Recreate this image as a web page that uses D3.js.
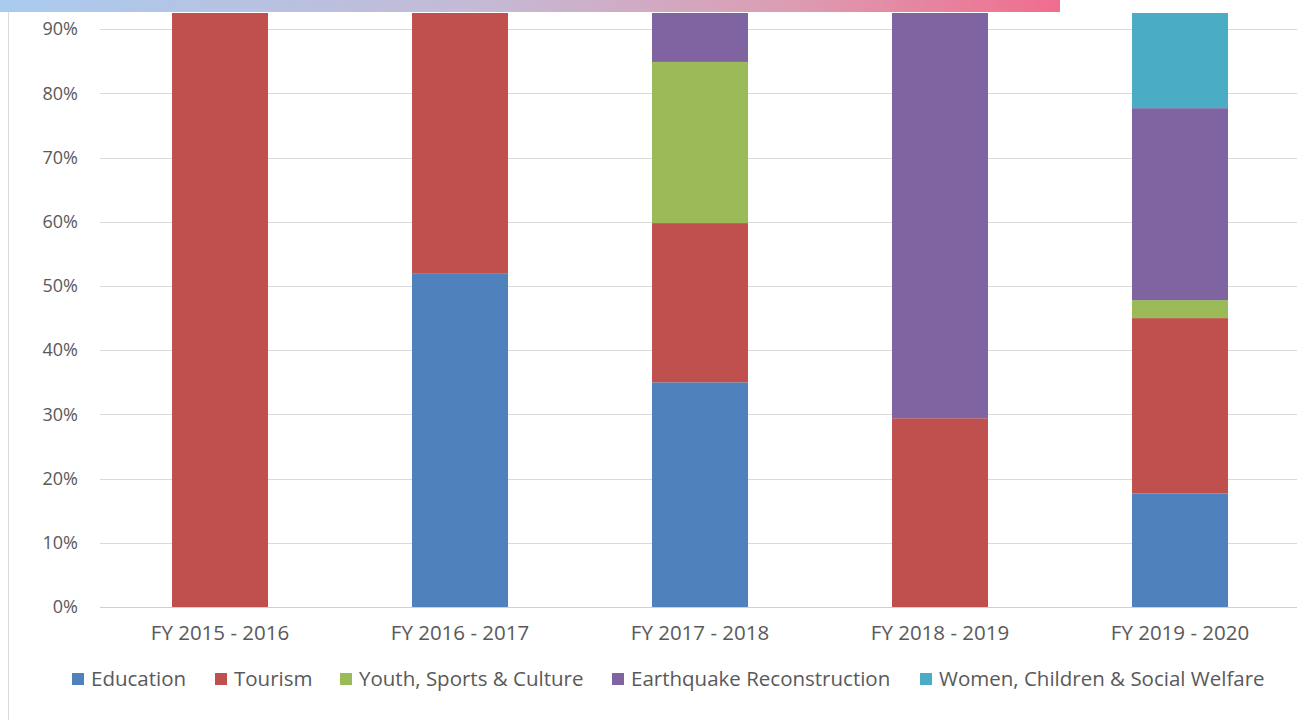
<!DOCTYPE html>
<html><head><meta charset="utf-8">
<script src="https://cdn.jsdelivr.net/npm/d3@7"></script>
<style>
html,body{margin:0;padding:0;background:#fff;}
svg{display:block;font-family:"Open Sans",Lato,sans-serif;}
</style></head>
<body>
<svg id="chart" width="1314" height="720"></svg>
<script>
const categories = ["FY 2015 - 2016","FY 2016 - 2017","FY 2017 - 2018","FY 2018 - 2019","FY 2019 - 2020"];
const seriesNames = ["Education","Tourism","Youth, Sports & Culture","Earthquake Reconstruction","Women, Children & Social Welfare"];
const education  = [0, 52, 35, 0, 17.7];
const tourism    = [100, 48, 24.8, 29.4, 27.3];
const youth      = [0, 0, 25.1, 0, 2.8];
const earthquake = [0, 0, 15.1, 70.6, 29.9];
const women      = [0, 0, 0, 0, 22.3];
const colors = ["#4F81BD","#C0504D","#9BBB59","#8064A2","#4BACC6"];
const yTicks = [0,0.1,0.2,0.3,0.4,0.5,0.6,0.7,0.8,0.9];

const svg = d3.select("#chart");
const W = 1314, H = 720;
const FONT = "'Open Sans',Lato,sans-serif";

// top gradient band
const defs = svg.append("defs");
const grad = defs.append("linearGradient").attr("id","topg").attr("x1","0").attr("x2","1").attr("y1","0").attr("y2","0");
grad.append("stop").attr("offset","0%").attr("stop-color","#a9cbef");
grad.append("stop").attr("offset","45%").attr("stop-color","#c4bad6");
grad.append("stop").attr("offset","75%").attr("stop-color","#dc9cb2");
grad.append("stop").attr("offset","100%").attr("stop-color","#f06d8e");
svg.append("rect").attr("x",0).attr("y",0).attr("width",1060).attr("height",12).attr("fill","url(#topg)");

// left border line
svg.append("line").attr("x1",8.5).attr("x2",8.5).attr("y1",12).attr("y2",H).attr("stroke","#d9d9d9").attr("stroke-width",1);

defs.append("clipPath").attr("id","plotclip").append("rect").attr("x",0).attr("y",13).attr("width",W).attr("height",H-13);

const x = d3.scaleBand().domain(categories).range([100,1300]).paddingInner(0.6).paddingOuter(0.3);
const y = d3.scaleLinear().domain([0,1]).range([607,-35]);

const g = svg.append("g").attr("clip-path","url(#plotclip)");

// gridlines
g.append("g").selectAll("line").data(yTicks).join("line")
  .attr("x1",100).attr("x2",1297)
  .attr("y1",d=>Math.round(y(d))+0.5).attr("y2",d=>Math.round(y(d))+0.5)
  .attr("stroke",d=>d===0?"#d0d0d0":"#d9d9d9").attr("stroke-width",1.2);

// stacked data
const rows = categories.map((c,i)=>({cat:c, s0:education[i]/100, s1:tourism[i]/100, s2:youth[i]/100, s3:earthquake[i]/100, s4:women[i]/100}));
const stack = d3.stack().keys(["s0","s1","s2","s3","s4"]);
const layers = stack(rows);

g.append("g").selectAll("g").data(layers).join("g")
  .attr("fill",(d,i)=>colors[i])
  .selectAll("rect").data(d=>d).join("rect")
  .attr("x",d=>x(d.data.cat))
  .attr("width",x.bandwidth())
  .attr("y",d=>y(d[1]))
  .attr("height",d=>Math.max(0,y(d[0])-y(d[1])));

// y axis
const yAxis = d3.axisLeft(y).tickValues(yTicks).tickFormat(d3.format(".0%")).tickSize(0).tickPadding(0);
const ya = svg.append("g").attr("transform","translate(78,0)").call(yAxis);
ya.select(".domain").remove();
ya.selectAll("text").attr("font-size",18).attr("fill","#595959").attr("font-family",FONT);

// x axis
const xAxis = d3.axisBottom(x).tickSize(0).tickPadding(0);
const xa = svg.append("g").attr("transform","translate(0,625)").call(xAxis);
xa.select(".domain").remove();
xa.selectAll("text").attr("font-size",20.5).attr("fill","#595959").attr("font-family",FONT);

// legend
const legendX = [72, 215, 340, 612, 920];
const leg = svg.append("g");
seriesNames.forEach((n,i)=>{
  const it = leg.append("g").attr("transform",`translate(${legendX[i]},679)`);
  it.append("rect").attr("x",0).attr("y",-6).attr("width",12).attr("height",12).attr("fill",colors[i]);
  it.append("text").attr("x",19).attr("y",0).attr("dy","0.35em").attr("font-size",20.5).attr("font-family",FONT).attr("fill","#595959").text(n);
});
</script>
</body></html>
